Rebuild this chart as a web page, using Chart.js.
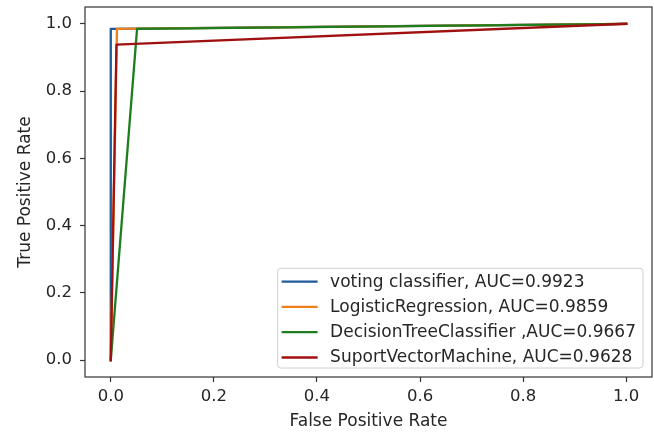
<!DOCTYPE html>
<html>
<head>
<meta charset="utf-8">
<script src="https://cdn.jsdelivr.net/npm/chart.js@4.4.1/dist/chart.umd.min.js"></script>
<style>
  html, body { margin: 0; padding: 0; background: #ffffff; }
  #wrap { width: 654px; height: 432px; position: relative; }
</style>
</head>
<body>
<div id="wrap"><canvas id="c"></canvas></div>
<script>
// ---- data ----
const seriesNames = [
  'voting classifier, AUC=0.9923',
  'LogisticRegression, AUC=0.9859',
  'DecisionTreeClassifier ,AUC=0.9667',
  'SuportVectorMachine, AUC=0.9628'
];
const fprVoting = [0, 0.0, 1];
const tprVoting = [0, 0.985, 1];
const fprLR = [0, 0.012, 1];
const tprLR = [0, 0.985, 1];
const fprDT = [0, 0.051, 1];
const tprDT = [0, 0.985, 1];
const fprSVM = [0, 0.011, 1];
const tprSVM = [0, 0.938, 1];
const tickValues = [0, 0.2, 0.4, 0.6, 0.8, 1.0];
const tickLabels = ['0.0', '0.2', '0.4', '0.6', '0.8', '1.0'];
const xTitle = 'False Positive Rate';
const yTitle = 'True Positive Rate';

const colors = ['#1f5b99', '#ef7f1a', '#1e7e1e', '#a01010'];
const FONT = "'DejaVu Sans', sans-serif";
const TEXT = '#262626';

function pts(xs, ys) { return xs.map((x, i) => ({ x: x, y: ys[i] })); }
const seriesData = [pts(fprVoting, tprVoting), pts(fprLR, tprLR), pts(fprDT, tprDT), pts(fprSVM, tprSVM)];

const datasets = seriesData.map((d, i) => ({
  label: seriesNames[i],
  data: d,
  showLine: true,
  borderColor: colors[i],
  backgroundColor: colors[i],
  borderWidth: 2.3,
  pointRadius: 0,
  pointHoverRadius: 0,
  tension: 0,
  fill: false,
  borderJoinStyle: 'round',
  borderCapStyle: 'square',
  order: seriesData.length - 1 - i
}));

const framePlugin = {
  id: 'frameAndLegend',
  afterDatasetsDraw(chart) {
    const ctx = chart.ctx;
    const a = chart.chartArea;
    ctx.save();
    ctx.strokeStyle = '#333333';
    ctx.lineWidth = 1.2;
    ctx.strokeRect(a.left, a.top, a.right - a.left, a.bottom - a.top);

    // legend box (matplotlib style, lower right)
    ctx.font = '17px ' + FONT;
    const names = chart.data.datasets.map(d => d.label);
    let maxW = 0;
    names.forEach(n => { maxW = Math.max(maxW, ctx.measureText(n).width); });
    const textOff = 52.5, rightPad = 7, rowH = 25.3, topPad = 13.3, botPad = 10.5;
    const boxR = a.right - 9, boxB = a.bottom - 9;
    const boxW = textOff + maxW + rightPad;
    const boxH = topPad + rowH * (names.length - 1) + botPad;
    const boxL = boxR - boxW, boxT = boxB - boxH;
    const r = 3;
    ctx.beginPath();
    ctx.moveTo(boxL + r, boxT);
    ctx.lineTo(boxR - r, boxT);
    ctx.quadraticCurveTo(boxR, boxT, boxR, boxT + r);
    ctx.lineTo(boxR, boxB - r);
    ctx.quadraticCurveTo(boxR, boxB, boxR - r, boxB);
    ctx.lineTo(boxL + r, boxB);
    ctx.quadraticCurveTo(boxL, boxB, boxL, boxB - r);
    ctx.lineTo(boxL, boxT + r);
    ctx.quadraticCurveTo(boxL, boxT, boxL + r, boxT);
    ctx.closePath();
    ctx.fillStyle = 'rgba(255,255,255,0.85)';
    ctx.fill();
    ctx.strokeStyle = '#d0d0d0';
    ctx.lineWidth = 1;
    ctx.stroke();

    names.forEach((n, i) => {
      const y = boxT + topPad + i * rowH;
      ctx.beginPath();
      ctx.strokeStyle = chart.data.datasets[i].borderColor;
      ctx.lineWidth = 2.3;
      ctx.moveTo(boxL + 4, y);
      ctx.lineTo(boxL + 40, y);
      ctx.stroke();
      ctx.fillStyle = TEXT;
      ctx.textAlign = 'left';
      ctx.textBaseline = 'middle';
      ctx.fillText(n, boxL + textOff, y + 0.5);
    });
    ctx.restore();
  }
};

new Chart(document.getElementById('c'), {
  type: 'scatter',
  data: { datasets: datasets },
  plugins: [framePlugin],
  options: {
    responsive: true,
    maintainAspectRatio: false,
    animation: false,
    layout: { padding: { top: 7, right: 2, left: 0, bottom: 0 } },
    plugins: {
      legend: { display: false },
      tooltip: { enabled: false }
    },
    scales: {
      x: {
        type: 'linear',
        min: -0.05,
        max: 1.05,
        afterFit(scale) { scale.height = 55; scale.paddingLeft = 0; scale.paddingRight = 0; },
        afterBuildTicks(scale) { scale.ticks = tickValues.map(v => ({ value: v })); },
        ticks: {
          callback: (v) => tickLabels[tickValues.indexOf(v)] ?? '',
          color: TEXT,
          font: { family: FONT, size: 16.5 },
          padding: 5,
          maxRotation: 0,
          autoSkip: false
        },
        grid: { drawOnChartArea: false, drawTicks: true, tickLength: 5, tickColor: '#333333', tickWidth: 1.2 },
        border: { display: false },
        title: { display: true, text: xTitle, color: TEXT, font: { family: FONT, size: 17 }, padding: { top: 0, bottom: 0 } }
      },
      y: {
        type: 'linear',
        min: -0.05,
        max: 1.05,
        afterFit(scale) { scale.width = 85; scale.paddingTop = 0; scale.paddingBottom = 0; },
        afterBuildTicks(scale) { scale.ticks = tickValues.map(v => ({ value: v })); },
        ticks: {
          callback: (v) => tickLabels[tickValues.indexOf(v)] ?? '',
          color: TEXT,
          font: { family: FONT, size: 16.5 },
          padding: 8,
          autoSkip: false
        },
        grid: { drawOnChartArea: false, drawTicks: true, tickLength: 5, tickColor: '#333333', tickWidth: 1.2 },
        border: { display: false },
        title: { display: true, text: yTitle, color: TEXT, font: { family: FONT, size: 17 }, padding: { top: 15, bottom: 0 } }
      }
    }
  }
});
</script>
</body>
</html>
